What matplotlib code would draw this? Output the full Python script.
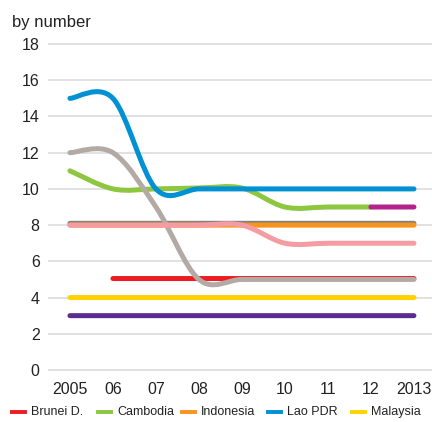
import matplotlib.pyplot as plt
import numpy as np
from matplotlib.path import Path
from matplotlib.patches import PathPatch
from matplotlib.lines import Line2D

plt.rcParams['font.family'] = ['Liberation Sans', 'DejaVu Sans']

years = [2005, 2006, 2007, 2008, 2009, 2010, 2011, 2012, 2013]
tick_labels = ['2005', '06', '07', '08', '09', '10', '11', '12', '2013']

brunei = [None, 5.05, 5.05, 5.05, 5.05, 5.05, 5.05, 5.05, 5.05]
cambodia = [11, 10, 10, 10.05, 10.05, 9, 9, 9, None]
indonesia = [8, 8, 8, 8, 8, 8, 8, 8, 8]
lao = [15, 15, 10, 10, 10, 10, 10, 10, 10]
malaysia = [4, 4, 4, 4, 4, 4, 4, 4, 4]
myanmar = [3, 3, 3, 3, 3, 3, 3, 3, 3]
philippines = [12, 12, 9, 5, 5, 5, 5, 5, 5]
singapore = [8.1, 8.1, 8.1, 8.1, 8.1, 8.1, 8.1, 8.1, 8.1]
thailand = [8, 8, 8, 8, 8, 7, 7, 7, 7]
vietnam = [None, None, None, None, None, None, None, 9, 9]

series = [
    ('Singapore', singapore, '#86807c'),
    ('Brunei D.', brunei, '#ed1c24'),
    ('Cambodia', cambodia, '#8dc63f'),
    ('Indonesia', indonesia, '#f7941d'),
    ('Lao PDR', lao, '#0090d4'),
    ('Malaysia', malaysia, '#ffd200'),
    ('Myanmar', myanmar, '#5c2d91'),
    ('Philippines', philippines, '#b4aaa5'),
    ('Thailand', thailand, '#f59ca3'),
    ('Viet Nam', vietnam, '#b5218d'),
]
legend_names = ['Brunei D.', 'Cambodia', 'Indonesia', 'Lao PDR', 'Malaysia']


def smooth_path(xs, ys):
    # Catmull-Rom style bezier, like a spreadsheet "smoothed line"
    pts = [(x, y) for x, y in zip(xs, ys) if y is not None]
    verts = [pts[0]]
    codes = [Path.MOVETO]
    n = len(pts)
    for i in range(n - 1):
        p0 = pts[max(i - 1, 0)]
        p1 = pts[i]
        p2 = pts[i + 1]
        p3 = pts[min(i + 2, n - 1)]
        c1 = (p1[0] + (p2[0] - p0[0]) / 6, p1[1] + (p2[1] - p0[1]) / 6)
        c2 = (p2[0] - (p3[0] - p1[0]) / 6, p2[1] - (p3[1] - p1[1]) / 6)
        verts += [c1, c2, p2]
        codes += [Path.CURVE4] * 3
    return Path(verts, codes)


W, H = 432, 422
fig = plt.figure(figsize=(W / 100, H / 100), dpi=100)
ax = fig.add_axes([48 / W, 0.1104, 1 - 48 / W, 0.7981])

for i, (name, vals, color) in enumerate(series):
    patch = PathPatch(smooth_path(years, vals), fill=False, edgecolor=color,
                      linewidth=3.6, capstyle='round', joinstyle='round',
                      zorder=3 + i)
    ax.add_patch(patch)

ax.set_xlim(2004.49, 2013.42)
ax.set_ylim(-0.3, 18.3)
ax.set_yticks(range(0, 19, 2))
ax.set_xticks(years)
ax.set_xticklabels(tick_labels)
ax.grid(axis='y', color='#d9d9d9', linewidth=1.1)
ax.set_axisbelow(True)
for s in ax.spines.values():
    s.set_visible(False)
ax.tick_params(length=0, labelsize=11.5, colors='#222222')
ax.tick_params(axis='y', pad=6)
ax.tick_params(axis='x', pad=5)

fig.text(12 / W, 1 - 22 / H, 'by number', fontsize=12, va='center',
         ha='left', color='#222222')

# legend row along the bottom edge (pixel x of each key)
colors = {name: color for name, vals, color in series}
key_x = [12, 98, 182, 268, 352]
leg_y = 1 - 412 / H
for x0, name in zip(key_x, legend_names):
    fig.add_artist(Line2D([x0 / W, (x0 + 13) / W], [leg_y, leg_y],
                          color=colors[name], linewidth=2.8,
                          transform=fig.transFigure))
    fig.text((x0 + 19) / W, leg_y, name, fontsize=9, va='center',
             ha='left', color='#222222')

fig.savefig('out.png', dpi=100)
